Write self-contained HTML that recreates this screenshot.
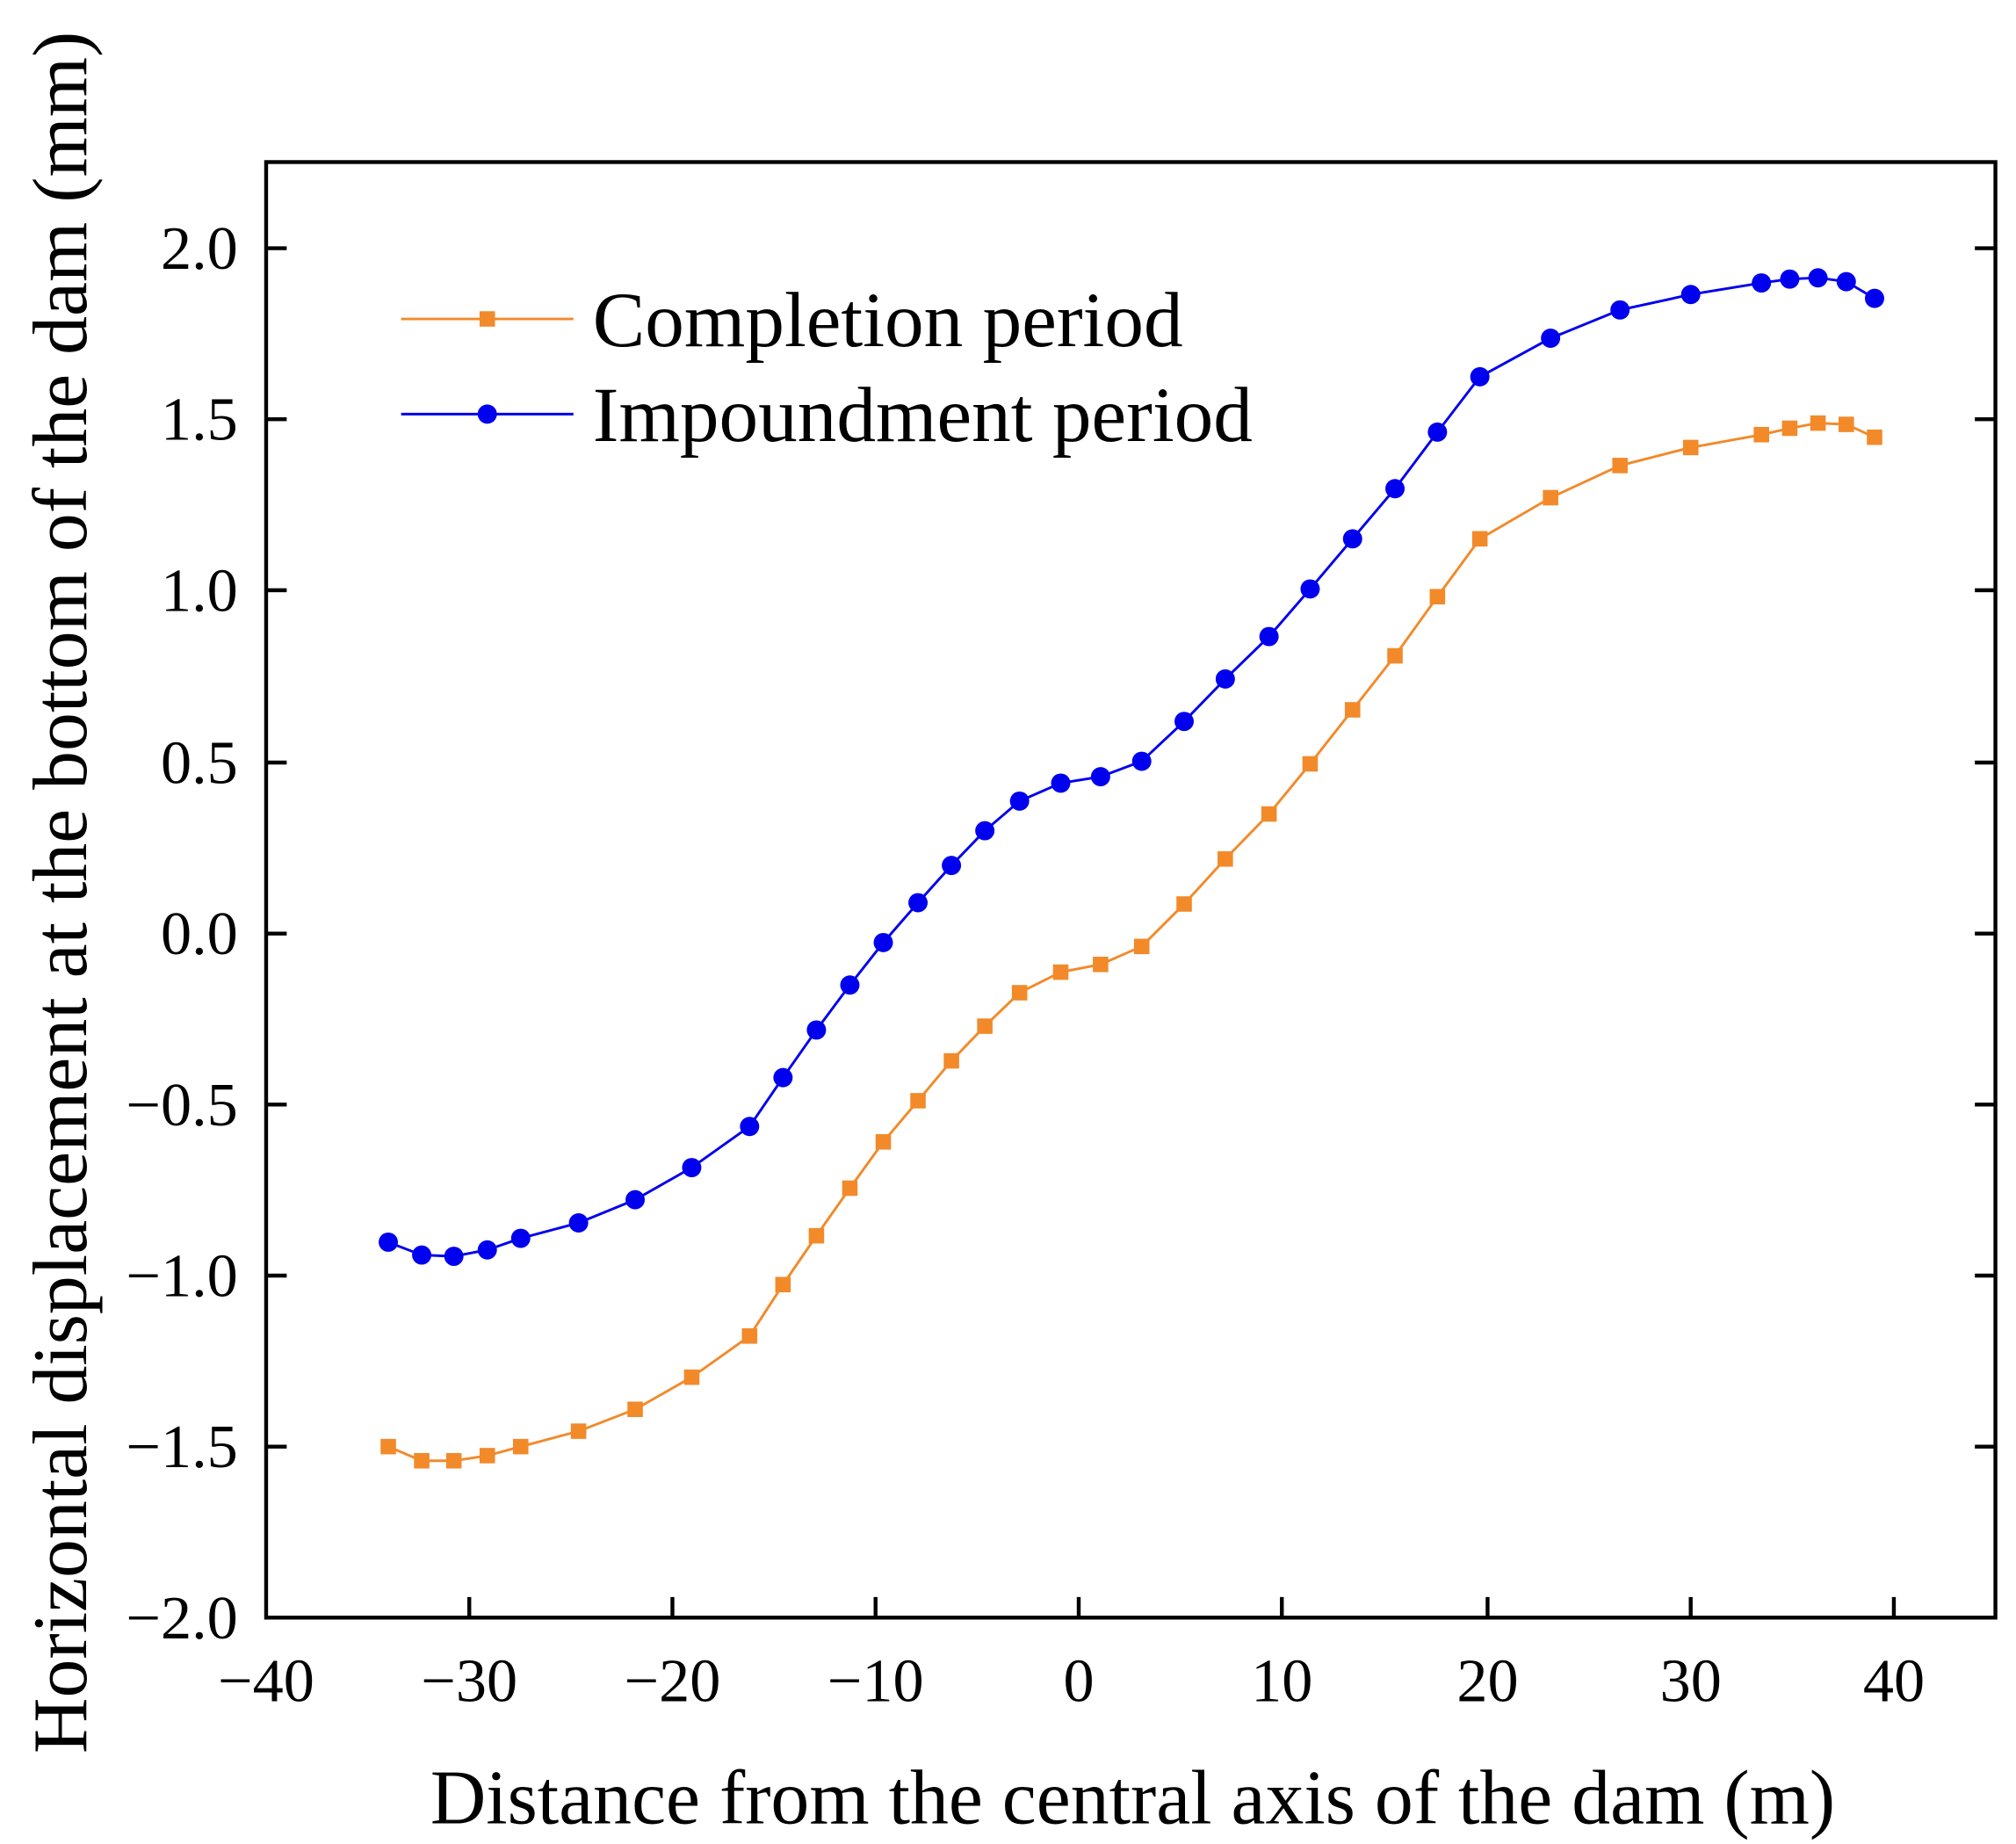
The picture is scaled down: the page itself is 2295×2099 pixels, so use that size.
<!DOCTYPE html>
<html><head><meta charset="utf-8"><style>html,body{margin:0;padding:0;background:#fff}svg{display:block}</style></head>
<body>
<svg width="2295" height="2099" viewBox="0 0 1568 1434" xmlns="http://www.w3.org/2000/svg" font-family="'Liberation Serif', serif">
<rect x="0" y="0" width="1568" height="1434" fill="#fff"/>
<g stroke="#000" stroke-width="3">
<rect x="207" y="126" width="1345" height="1132" fill="none"/>
<path d="M365 1258v-16M523 1258v-16M681 1258v-16M839 1258v-16M997 1258v-16M1157 1258v-16M1315 1258v-16M1473 1258v-16"/>
<path d="M207 193h16M207 326h16M207 459h16M207 593h16M207 726h16M207 859h16M207 992h16M207 1125h16"/>
<path d="M1552 193h-16M1552 326h-16M1552 459h-16M1552 593h-16M1552 726h-16M1552 859h-16M1552 992h-16M1552 1125h-16"/>
</g>
<g font-size="48" text-anchor="end" fill="#000">
<text x="185" y="209">2.0</text><text x="185" y="342">1.5</text><text x="185" y="475">1.0</text><text x="185" y="609">0.5</text><text x="185" y="742">0.0</text><text x="185" y="875">−0.5</text><text x="185" y="1008">−1.0</text><text x="185" y="1141">−1.5</text><text x="185" y="1274">−2.0</text>
</g>
<g font-size="48" text-anchor="middle" fill="#000">
<text x="207" y="1323">−40</text><text x="365" y="1323">−30</text><text x="523" y="1323">−20</text><text x="681" y="1323">−10</text><text x="839" y="1323">0</text><text x="997" y="1323">10</text><text x="1157" y="1323">20</text><text x="1315" y="1323">30</text><text x="1473" y="1323">40</text>
</g>
<text x="881" y="1418" font-size="60" text-anchor="middle">Distance from the central axis of the dam (m)</text>
<text transform="translate(67,694) rotate(-90)" font-size="60" text-anchor="middle">Horizontal displacement at the bottom of the dam (mm)</text>
<polyline fill="none" stroke="#f28a2a" stroke-width="2" points="302,1125 328,1136 353,1136 379,1132 405,1125 450,1113 494,1096 538,1071 583,1039 609,999 635,961 661,924 687,888 714,856 740,825 766,798 793,772 825,756 856,750 888,736 921,703 953,668 987,633 1019,594 1052,552 1085,510 1118,464 1151,419 1206,387 1260,362 1315,348 1370,338 1392,333 1414,329 1436,330 1458,340"/>
<g fill="#f28a2a">
<rect x="296" y="1119" width="12" height="12"/><rect x="322" y="1130" width="12" height="12"/><rect x="347" y="1130" width="12" height="12"/><rect x="373" y="1126" width="12" height="12"/><rect x="399" y="1119" width="12" height="12"/><rect x="444" y="1107" width="12" height="12"/><rect x="488" y="1090" width="12" height="12"/><rect x="532" y="1065" width="12" height="12"/><rect x="577" y="1033" width="12" height="12"/><rect x="603" y="993" width="12" height="12"/><rect x="629" y="955" width="12" height="12"/><rect x="655" y="918" width="12" height="12"/><rect x="681" y="882" width="12" height="12"/><rect x="708" y="850" width="12" height="12"/><rect x="734" y="819" width="12" height="12"/><rect x="760" y="792" width="12" height="12"/><rect x="787" y="766" width="12" height="12"/><rect x="819" y="750" width="12" height="12"/><rect x="850" y="744" width="12" height="12"/><rect x="882" y="730" width="12" height="12"/><rect x="915" y="697" width="12" height="12"/><rect x="947" y="662" width="12" height="12"/><rect x="981" y="627" width="12" height="12"/><rect x="1013" y="588" width="12" height="12"/><rect x="1046" y="546" width="12" height="12"/><rect x="1079" y="504" width="12" height="12"/><rect x="1112" y="458" width="12" height="12"/><rect x="1145" y="413" width="12" height="12"/><rect x="1200" y="381" width="12" height="12"/><rect x="1254" y="356" width="12" height="12"/><rect x="1309" y="342" width="12" height="12"/><rect x="1364" y="332" width="12" height="12"/><rect x="1386" y="327" width="12" height="12"/><rect x="1408" y="323" width="12" height="12"/><rect x="1430" y="324" width="12" height="12"/><rect x="1452" y="334" width="12" height="12"/>
</g>
<polyline fill="none" stroke="#0000ee" stroke-width="2" points="302,966 328,976 353,977 379,972 405,963 450,951 494,933 538,908 583,876 609,838 635,801 661,766 687,733 714,702 740,673 766,646 793,623 825,609 856,604 888,592 921,561 953,528 987,495 1019,458 1052,419 1085,380 1118,336 1151,293 1206,263 1260,241 1315,229 1370,220 1392,217 1414,216 1436,219 1458,232"/>
<g fill="#0000ee">
<circle cx="302" cy="966" r="7.5"/><circle cx="328" cy="976" r="7.5"/><circle cx="353" cy="977" r="7.5"/><circle cx="379" cy="972" r="7.5"/><circle cx="405" cy="963" r="7.5"/><circle cx="450" cy="951" r="7.5"/><circle cx="494" cy="933" r="7.5"/><circle cx="538" cy="908" r="7.5"/><circle cx="583" cy="876" r="7.5"/><circle cx="609" cy="838" r="7.5"/><circle cx="635" cy="801" r="7.5"/><circle cx="661" cy="766" r="7.5"/><circle cx="687" cy="733" r="7.5"/><circle cx="714" cy="702" r="7.5"/><circle cx="740" cy="673" r="7.5"/><circle cx="766" cy="646" r="7.5"/><circle cx="793" cy="623" r="7.5"/><circle cx="825" cy="609" r="7.5"/><circle cx="856" cy="604" r="7.5"/><circle cx="888" cy="592" r="7.5"/><circle cx="921" cy="561" r="7.5"/><circle cx="953" cy="528" r="7.5"/><circle cx="987" cy="495" r="7.5"/><circle cx="1019" cy="458" r="7.5"/><circle cx="1052" cy="419" r="7.5"/><circle cx="1085" cy="380" r="7.5"/><circle cx="1118" cy="336" r="7.5"/><circle cx="1151" cy="293" r="7.5"/><circle cx="1206" cy="263" r="7.5"/><circle cx="1260" cy="241" r="7.5"/><circle cx="1315" cy="229" r="7.5"/><circle cx="1370" cy="220" r="7.5"/><circle cx="1392" cy="217" r="7.5"/><circle cx="1414" cy="216" r="7.5"/><circle cx="1436" cy="219" r="7.5"/><circle cx="1458" cy="232" r="7.5"/>
</g>
<line x1="312" y1="248" x2="446" y2="248" stroke="#f28a2a" stroke-width="2"/>
<rect x="373" y="242" width="12" height="12" fill="#f28a2a"/>
<text x="461" y="269" font-size="61">Completion period</text>
<line x1="312" y1="322" x2="446" y2="322" stroke="#0000ee" stroke-width="2"/>
<circle cx="379" cy="322" r="7.5" fill="#0000ee"/>
<text x="461" y="343" font-size="61">Impoundment period</text>
</svg>
</body></html>
